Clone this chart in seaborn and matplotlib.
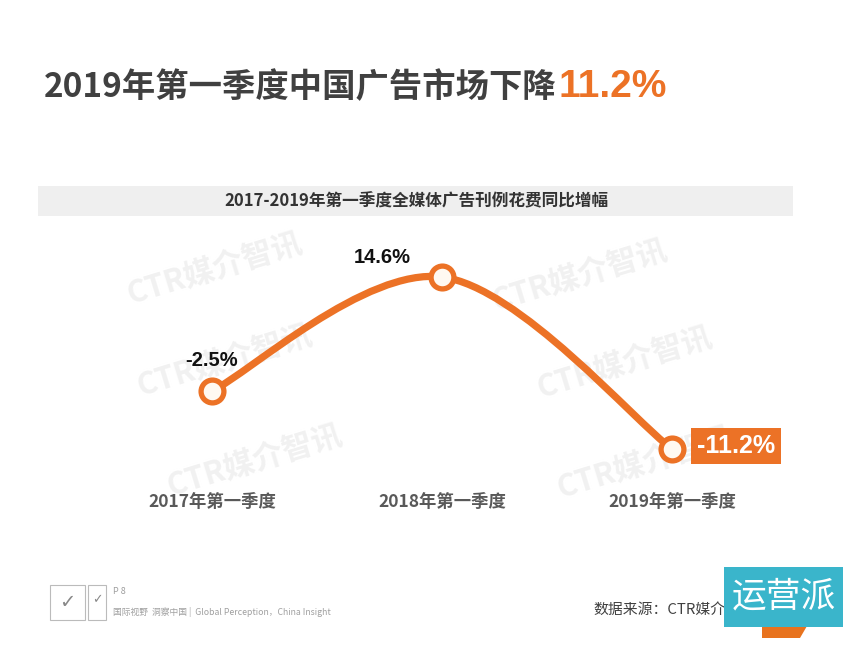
import numpy as np
import pandas as pd
import matplotlib.pyplot as plt
import seaborn as sns
from matplotlib.path import Path
from matplotlib.patches import PathPatch, Rectangle, Polygon

# data
quarters = ["2017年第一季度", "2018年第一季度", "2019年第一季度"]
growth = [-2.5, 14.6, -11.2]
value_labels = ["-2.5%", "14.6%", "-11.2%"]

title_main = "2019年第一季度中国广告市场下降"
title_hl = "11.2%"
subtitle = "2017-2019年第一季度全媒体广告刊例花费同比增幅"
source = "数据来源：CTR媒介智讯"
footer_page = "P 8"
footer_slogan = "国际视野  洞察中国 |  Global Perception，China Insight"
watermark = "CTR媒介智讯"

ORANGE = "#EC7226"
DARK = "#404040"

sns.set_style("white")
plt.rcParams["font.family"] = ["Noto Sans CJK SC", "DejaVu Sans"]

W, H = 864, 647
fig = plt.figure(figsize=(W / 100, H / 100), dpi=100)


def fx(px):
    return px / W


def fy(py):
    return 1 - py / H


# faint watermarks behind everything
for cx, cy in [(215, 268), (225, 360), (255, 460), (580, 275), (625, 362), (645, 462)]:
    fig.text(fx(cx), fy(cy), watermark, color="#F1F1F1", fontsize=22, fontweight="bold",
             rotation=17, ha="center", va="center", zorder=-2)

# title
t1 = fig.text(fx(44), fy(97), title_main, fontsize=24, fontweight="bold", color=DARK,
              ha="left", va="baseline")
fig.canvas.draw()
bb = t1.get_window_extent()
fig.text(bb.x1 / W + 0.002, fy(97), title_hl, fontsize=28, fontweight="bold", color=ORANGE,
         family=["Liberation Sans"], ha="left", va="baseline")

# subtitle band
fig.patches.append(Rectangle((fx(38), fy(216)), fx(793) - fx(38), 30 / H,
                             transform=fig.transFigure, facecolor="#EFEFEF", edgecolor="none",
                             zorder=-1))
fig.text(fx(416), fy(201), subtitle, fontsize=12, fontweight="bold", color="#333333",
         ha="center", va="center")

# main chart axes, x spacing 230px per quarter
ax = fig.add_axes([0, fy(480), 1, 240 / H])
ax.set_facecolor("none")
ax.set_zorder(1)

df = pd.DataFrame({"quarter": quarters, "growth": growth})
xs = np.arange(len(quarters))

# smoothed line (Catmull-Rom style bezier through the points)
pts = np.column_stack([xs, df["growth"].values]).astype(float)
verts = [pts[0]]
codes = [Path.MOVETO]
n = len(pts)
for i in range(n - 1):
    p_prev = pts[max(i - 1, 0)]
    p0 = pts[i]
    p1 = pts[i + 1]
    p_next = pts[min(i + 2, n - 1)]
    verts += [p0 + (p1 - p_prev) / 6, p1 - (p_next - p0) / 6, p1]
    codes += [Path.CURVE4] * 3
ax.add_patch(PathPatch(Path(verts, codes), fill=False, edgecolor=ORANGE, linewidth=5.2,
                       capstyle="round", zorder=2))

sns.scatterplot(x=xs, y=df["growth"], s=270, color="#FFF9F1", edgecolor=ORANGE,
                linewidth=3.8, zorder=3, ax=ax)

ax.set_xlim(-212 / 230, 2 + 192 / 230)
ax.set_ylim(-15.84, 20.15)
ax.axis("off")

# value labels
ax.annotate(value_labels[0], (xs[0], growth[0]), xytext=(0, 22), textcoords="offset points",
            ha="center", va="center", fontsize=14.5, fontweight="bold", color="#111111",
            family=["Liberation Sans"])
ax.annotate(value_labels[1], (xs[1], growth[1]), xytext=(-43, 14), textcoords="offset points",
            ha="center", va="center", fontsize=14.5, fontweight="bold", color="#111111",
            family=["Liberation Sans"])
ax.annotate(value_labels[2], (xs[2], growth[2]), xytext=(46, 2), textcoords="offset points",
            ha="center", va="center", fontsize=18, fontweight="bold", color="white",
            family=["Liberation Sans"],
            bbox=dict(boxstyle="square,pad=0.24", facecolor=ORANGE, edgecolor="none"))

# category labels
for x, q in zip(xs, quarters):
    ax.annotate(q, (x, 0), xycoords=("data", "figure fraction"), xytext=(0, fy(502) * H * 0.72),
                textcoords="offset points", ha="center", va="center", fontsize=12.5,
                fontweight="bold", color="#595959")

# footer
fig.patches.append(Rectangle((fx(50), fy(620)), 35 / W, 35 / H, transform=fig.transFigure,
                             facecolor="white", edgecolor="#BBBBBB", linewidth=0.8))
fig.patches.append(Rectangle((fx(88), fy(620)), 18 / W, 35 / H, transform=fig.transFigure,
                             facecolor="white", edgecolor="#BBBBBB", linewidth=0.8))
fig.text(fx(67.5), fy(602), "✓", fontsize=14, color="#888888", ha="center", va="center",
         family=["DejaVu Sans"])
fig.text(fx(97), fy(600), "✓", fontsize=9, color="#888888", ha="center", va="center",
         family=["DejaVu Sans"])
fig.text(fx(113), fy(592), footer_page, fontsize=6.5, color="#A0A0A0", ha="left", va="center")
fig.text(fx(113), fy(612), footer_slogan, fontsize=6.3, color="#A0A0A0", ha="left", va="center")
fig.text(fx(593), fy(610), source, fontsize=10.7, color=DARK, ha="left", va="center")

# overlay badge
fig.patches.append(Polygon([[fx(762), fy(626)], [fx(807), fy(626)], [fx(800), fy(638)],
                            [fx(762), fy(638)]], closed=True, transform=fig.transFigure,
                           facecolor="#E8731E", edgecolor="none", zorder=4))
fig.patches.append(Rectangle((fx(724), fy(627)), 119 / W, 60 / H, transform=fig.transFigure,
                             facecolor="#3AB5CB", edgecolor="none", zorder=5))
fig.text(fx(783.5), fy(597), "运营派", fontsize=25, color="white", ha="center", va="center",
         zorder=6)

fig.savefig("out.png", dpi=100)
